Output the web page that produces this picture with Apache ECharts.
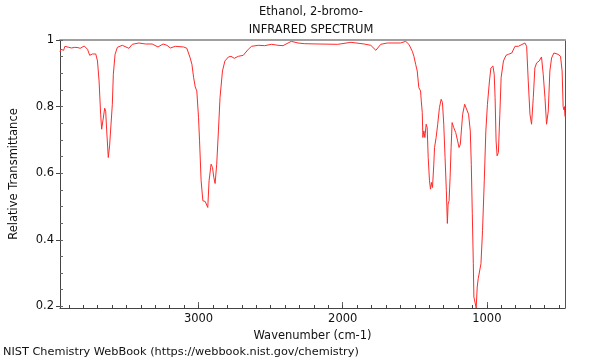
<!DOCTYPE html>
<html>
<head>
<meta charset="utf-8">
<script src="https://cdn.jsdelivr.net/npm/echarts@6/dist/echarts.min.js"></script>
<style>
  html, body { margin: 0; padding: 0; background: #fff; }
  #chart { width: 600px; height: 360px; }
</style>
</head>
<body>
<div id="chart"></div>
<script>
  // IR spectrum: wavenumber (cm-1) and relative transmittance
  var wavenumbers = [
    3961, 3955, 3943, 3936, 3927, 3915, 3901, 3892, 3881, 3869, 3858, 3846, 3835, 3821, 3810, 3793, 3782,
    3770, 3755, 3736, 3724, 3713, 3701, 3690, 3679, 3672, 3662, 3651, 3644, 3637, 3626, 3617, 3607,
    3598, 3591, 3579, 3563, 3529, 3483, 3460, 3414, 3368, 3322, 3281, 3246, 3219, 3196, 3161, 3103,
    3081, 3058, 3046, 3034, 3023, 3012, 3000, 2993, 2982, 2970, 2954, 2943, 2936, 2927, 2913, 2903,
    2894, 2885, 2874, 2862, 2851, 2834, 2817, 2793, 2775, 2752, 2724, 2690, 2655, 2632, 2586, 2541,
    2494, 2448, 2414, 2357, 2310, 2267, 2172, 2034, 1943, 1851, 1805, 1770, 1736, 1690, 1644, 1598,
    1563, 1541, 1517, 1506, 1494, 1483, 1472, 1460, 1455, 1448, 1444, 1437, 1430, 1421, 1414, 1407,
    1398, 1391, 1384, 1377, 1368, 1363, 1352, 1341, 1329, 1317, 1308, 1299, 1290, 1281, 1274, 1269,
    1262, 1255, 1248, 1241, 1230, 1216, 1203, 1193, 1184, 1177, 1168, 1154, 1143, 1127, 1115, 1108,
    1101, 1094, 1090, 1083, 1074, 1067, 1060, 1051, 1041, 1030, 1018, 1007, 996, 982, 972, 958,
    949, 943, 936, 929, 920, 910, 901, 885, 867, 851, 839, 827, 805, 782, 770, 736,
    724, 713, 701, 690, 678, 667, 655, 637, 621, 609, 597, 586, 574, 563, 551, 535,
    522, 506, 489, 478, 471, 465, 462, 458
  ];
  var transmittance = [
    0.964, 0.972, 0.975, 0.969, 0.981, 0.976, 0.978, 0.972, 0.976, 0.975, 0.978, 0.975, 0.977, 0.975, 0.979, 0.982, 0.976,
    0.972, 0.954, 0.958, 0.964, 0.958, 0.937, 0.877, 0.777, 0.732, 0.737, 0.795, 0.786, 0.727, 0.647, 0.682, 0.687,
    0.807, 0.897, 0.957, 0.978, 0.984, 0.975, 0.987, 0.991, 0.988, 0.988, 0.979, 0.988, 0.984, 0.976, 0.981, 0.979,
    0.975, 0.946, 0.927, 0.887, 0.859, 0.847, 0.767, 0.697, 0.577, 0.517, 0.515, 0.509, 0.497, 0.577, 0.627, 0.617,
    0.587, 0.569, 0.627, 0.727, 0.827, 0.907, 0.937, 0.949, 0.951, 0.945, 0.951, 0.954, 0.972, 0.981, 0.984, 0.983,
    0.987, 0.984, 0.983, 0.996, 0.991, 0.989, 0.988, 0.987, 0.993, 0.988, 0.984, 0.969, 0.987, 0.991, 0.991, 0.991,
    0.996, 0.987, 0.966, 0.951, 0.927, 0.907, 0.857, 0.847, 0.817, 0.782, 0.707, 0.727, 0.707, 0.747, 0.737, 0.647,
    0.577, 0.552, 0.572, 0.557, 0.627, 0.677, 0.707, 0.747, 0.797, 0.822, 0.812, 0.747, 0.647, 0.547, 0.449, 0.507,
    0.517, 0.587, 0.677, 0.752, 0.737, 0.722, 0.697, 0.677, 0.687, 0.727, 0.777, 0.807, 0.802, 0.777, 0.727, 0.627,
    0.478, 0.328, 0.228, 0.223, 0.195, 0.258, 0.283, 0.288, 0.328, 0.428, 0.577, 0.727, 0.807, 0.877, 0.916, 0.922,
    0.897, 0.827, 0.697, 0.652, 0.662, 0.777, 0.887, 0.937, 0.954, 0.957, 0.951, 0.961, 0.981, 0.981, 0.987, 0.991,
    0.981, 0.877, 0.777, 0.747, 0.827, 0.916, 0.931, 0.937, 0.949, 0.897, 0.827, 0.747, 0.787, 0.907, 0.946, 0.961,
    0.964, 0.957, 0.951, 0.907, 0.800, 0.790, 0.800, 0.770
  ];
  var xLabelTicks = [1000, 2000, 3000];
  var xMinorTicks = [500, 600, 700, 800, 900, 1000, 1100, 1200, 1300, 1400, 1500, 1600, 1700, 1800, 1900, 2000,
    2100, 2200, 2300, 2400, 2500, 2600, 2700, 2800, 2900, 3000, 3100, 3200, 3300, 3400, 3500, 3600, 3700, 3800, 3900];
  var yLabelTicks = [0.2, 0.4, 0.6, 0.8, 1];
  var yMinorTicks = [0.2, 0.25, 0.3, 0.35, 0.4, 0.45, 0.5, 0.55, 0.6, 0.65, 0.7, 0.75, 0.8, 0.85, 0.9, 0.95, 1];

  var font = 'DejaVu Sans';
  var points = wavenumbers.map(function (w, i) { return [w, transmittance[i]]; });

  var chart = echarts.init(document.getElementById('chart'));
  var xRange = { min: 458, max: 3961, inverse: true, type: 'value' };
  var yRange = { min: 0.195, max: 1.0, type: 'value' };

  chart.setOption({
    animation: false,
    textStyle: { fontFamily: font },
    grid: { left: 57, right: 35, top: 40, bottom: 52, show: false },
    graphic: [
      { type: 'text', style: { x: 311, y: 12, text: 'Ethanol, 2-bromo-', textAlign: 'center', textVerticalAlign: 'middle', font: '11.5px "DejaVu Sans"', fill: '#111' } },
      { type: 'text', style: { x: 311, y: 30, text: 'INFRARED SPECTRUM', textAlign: 'center', textVerticalAlign: 'middle', font: '11.5px "DejaVu Sans"', fill: '#111' } },
      { type: 'text', style: { x: 3, y: 352, text: 'NIST Chemistry WebBook (https://webbook.nist.gov/chemistry)', textAlign: 'left', textVerticalAlign: 'middle', font: '11.3px "DejaVu Sans"', fill: '#111' } }
    ],
    xAxis: [
      Object.assign({}, xRange, {
        position: 'bottom',
        name: 'Wavenumber (cm-1)', nameLocation: 'middle', nameGap: 18,
        nameTextStyle: { fontSize: 11.5, color: '#111', fontFamily: font },
        axisLine: { show: true, lineStyle: { color: '#444', width: 1 } },
        axisTick: { show: true, inside: true, length: 6, customValues: xLabelTicks, lineStyle: { color: '#666' } },
        axisLabel: { customValues: xLabelTicks, margin: 5, fontSize: 11.5, color: '#111', fontFamily: font,
          formatter: function (v) { return String(v); } },
        splitLine: { show: false }
      }),
      Object.assign({}, xRange, {
        position: 'bottom',
        axisLine: { show: false },
        axisTick: { show: true, inside: true, length: 3, customValues: xMinorTicks, lineStyle: { color: '#444' } },
        axisLabel: { show: false },
        splitLine: { show: false }
      }),
      Object.assign({}, xRange, {
        position: 'top',
        axisLine: { show: true, lineStyle: { color: '#a0a0a0', width: 2 } },
        axisTick: { show: false }, axisLabel: { show: false }, splitLine: { show: false }
      })
    ],
    yAxis: [
      Object.assign({}, yRange, {
        position: 'left',
        name: 'Relative Transmittance', nameLocation: 'middle', nameGap: 40,
        nameTextStyle: { fontSize: 11.5, color: '#111', fontFamily: font },
        axisLine: { show: true, lineStyle: { color: '#444', width: 1 } },
        axisTick: { show: true, inside: false, length: 4, customValues: yLabelTicks, lineStyle: { color: '#444' } },
        axisLabel: { customValues: yLabelTicks, margin: 6, fontSize: 11.5, color: '#111', fontFamily: font,
          formatter: function (v) { return String(+v.toFixed(2)); } },
        splitLine: { show: false }
      }),
      Object.assign({}, yRange, {
        position: 'left',
        axisLine: { show: false },
        axisTick: { show: true, inside: true, length: 3, customValues: yMinorTicks, lineStyle: { color: '#666' } },
        axisLabel: { show: false },
        splitLine: { show: false }
      }),
      Object.assign({}, yRange, {
        position: 'right',
        axisLine: { show: true, lineStyle: { color: '#555', width: 1 } },
        axisTick: { show: false }, axisLabel: { show: false }, splitLine: { show: false }
      })
    ],
    series: [{
      type: 'line',
      xAxisIndex: 0,
      yAxisIndex: 0,
      data: points,
      showSymbol: false,
      symbol: 'none',
      clip: true,
      lineStyle: { color: '#ff2a2a', width: 1 },
      z: 1
    }]
  });
</script>
</body>
</html>
